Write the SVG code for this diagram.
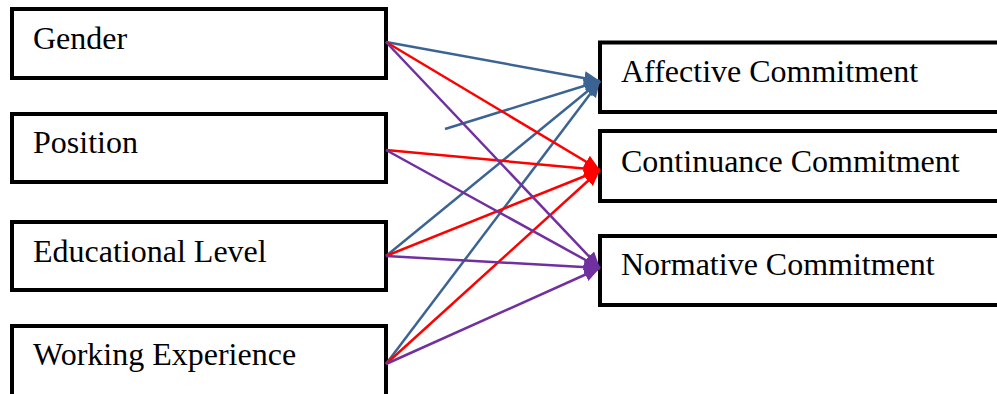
<svg xmlns="http://www.w3.org/2000/svg" width="997" height="394" viewBox="0 0 997 394">
<style>
.box{fill:#fff;stroke:#000;stroke-width:4}
.t{font-family:"Liberation Serif","Times New Roman",serif;font-size:32px;fill:#000}
.c{fill:none;stroke-width:2.5}
.b{stroke:#3B6494}
.r{stroke:#FF0000}
.p{stroke:#7030A0}
</style>
<defs>
<marker id="ab" markerUnits="userSpaceOnUse" markerWidth="18" markerHeight="16" refX="16" refY="7" orient="auto"><path d="M0,0 L16,7 L0,14 z" fill="#3B6494"/></marker>
<marker id="ar" markerUnits="userSpaceOnUse" markerWidth="18" markerHeight="16" refX="16" refY="7" orient="auto"><path d="M0,0 L16,7 L0,14 z" fill="#FF0000"/></marker>
<marker id="ap" markerUnits="userSpaceOnUse" markerWidth="18" markerHeight="16" refX="16" refY="7" orient="auto"><path d="M0,0 L16,7 L0,14 z" fill="#7030A0"/></marker>
</defs>
<g id="gender"><rect class="box" x="12" y="9" width="374" height="69"/><text class="t" x="33" y="49">Gender</text></g>
<g id="position"><rect class="box" x="12" y="114" width="374" height="68"/><text class="t" x="33" y="153">Position</text></g>
<g id="educational"><rect class="box" x="12" y="222" width="374" height="68"/><text class="t" x="33" y="262">Educational Level</text></g>
<g id="working"><rect class="box" x="12" y="326" width="374" height="80"/><text class="t" x="33" y="365">Working Experience</text></g>
<g id="affective"><rect class="box" x="600" y="42.5" width="410" height="69.5"/><text class="t" x="621" y="82">Affective Commitment</text></g>
<g id="continuance"><rect class="box" x="600" y="131" width="410" height="70"/><text class="t" x="621" y="172">Continuance Commitment</text></g>
<g id="normative"><rect class="box" x="600" y="236" width="410" height="69"/><text class="t" x="621" y="275">Normative Commitment</text></g>
<g id="connectors">
<line class="c b" x1="386" y1="42" x2="600" y2="81" marker-end="url(#ab)"/>
<line class="c b" x1="445" y1="129" x2="600" y2="81" marker-end="url(#ab)"/>
<line class="c b" x1="386" y1="256" x2="600" y2="81" marker-end="url(#ab)"/>
<line class="c b" x1="386" y1="364" x2="600" y2="81" marker-end="url(#ab)"/>
<line class="c r" x1="386" y1="42" x2="600" y2="170" marker-end="url(#ar)"/>
<line class="c r" x1="386" y1="150" x2="600" y2="170" marker-end="url(#ar)"/>
<line class="c r" x1="386" y1="256" x2="600" y2="170" marker-end="url(#ar)"/>
<line class="c r" x1="386" y1="364" x2="600" y2="170" marker-end="url(#ar)"/>
<line class="c p" x1="386" y1="42" x2="600" y2="268" marker-end="url(#ap)"/>
<line class="c p" x1="386" y1="150" x2="600" y2="268" marker-end="url(#ap)"/>
<line class="c p" x1="386" y1="256" x2="600" y2="268" marker-end="url(#ap)"/>
<line class="c p" x1="386" y1="364" x2="600" y2="268" marker-end="url(#ap)"/>
</g>
</svg>
